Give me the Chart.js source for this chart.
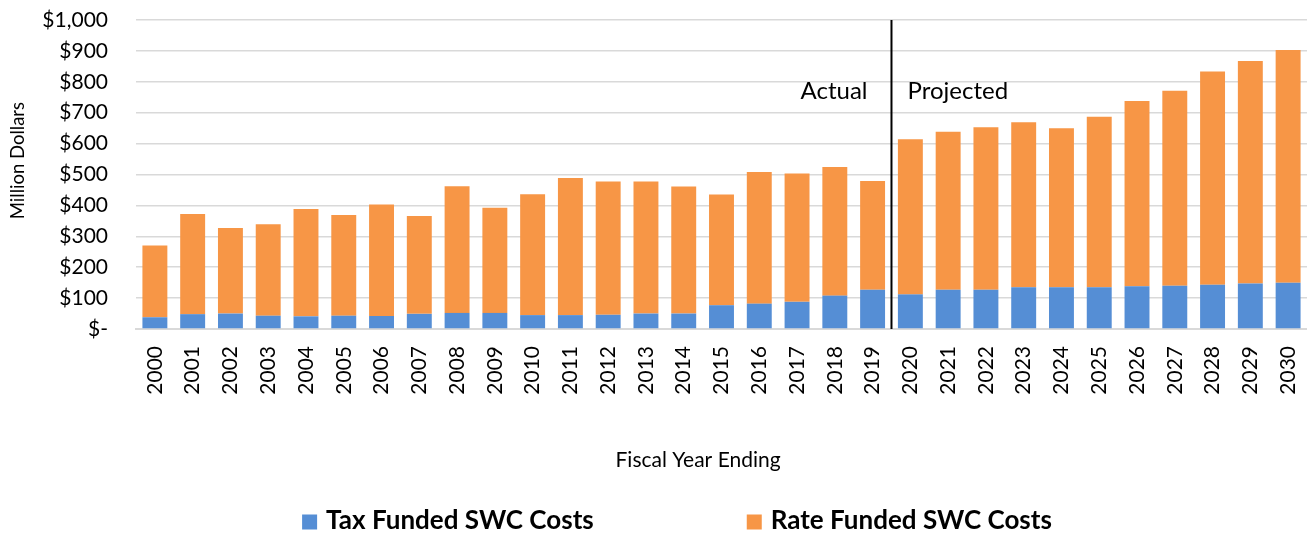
<!DOCTYPE html>
<html><head><meta charset="utf-8">
<script src="https://cdn.jsdelivr.net/npm/chart.js@4.4.1/dist/chart.umd.min.js"></script>
<style>html,body{margin:0;padding:0;background:#fff;} #wrap{width:1307px;height:533px;position:relative;}</style>
</head><body><div id="wrap"><canvas id="c"></canvas></div>
<script>
const categories = ['2000','2001','2002','2003','2004','2005','2006','2007','2008','2009','2010','2011','2012','2013','2014','2015','2016','2017','2018','2019','2020','2021','2022','2023','2024','2025','2026','2027','2028','2029','2030'];
const taxFunded = [38,48,50,43,41,43,42,49,52,52,45,45,46,50,50,77,82,88,108,127,112,127,127,135,135,135,138,140,143,147,150];
const rateFunded = [232,324,277,296,347,326,361,317,410,340,391,444,431,427,411,358,426,415,416,352,502,511,526,534,515,552,600,631,690,720,753];
const yTickLabels = ['$-','$100','$200','$300','$400','$500','$600','$700','$800','$900','$1,000'];
const seriesNames = ['Tax Funded SWC Costs','Rate Funded SWC Costs'];
const seriesColors = ['#558ED5','#F79646'];
const periodLabels = ['Actual','Projected'];
const axisTitles = ['Fiscal Year Ending','Million Dollars'];
const dividerAfter = '2019';
const labelLevel = 768;

const FONT = 'Lato, "Open Sans", sans-serif';

const overlay = {
  id: 'overlay',
  afterDatasetsDraw(chart) {
    const {ctx, chartArea, scales} = chart;
    const i = categories.indexOf(dividerAfter);
    const x = (scales.x.getPixelForValue(i) + scales.x.getPixelForValue(i + 1)) / 2;
    ctx.save();
    ctx.strokeStyle = '#000';
    ctx.lineWidth = 2;
    ctx.beginPath();
    ctx.moveTo(x, chartArea.top);
    ctx.lineTo(x, chartArea.bottom);
    ctx.stroke();
    const y = scales.y.getPixelForValue(labelLevel);
    ctx.fillStyle = '#000';
    ctx.font = '24px ' + FONT;
    ctx.textBaseline = 'middle';
    ctx.textAlign = 'right';
    ctx.fillText(periodLabels[0], x - 24, y);
    ctx.textAlign = 'left';
    ctx.fillText(periodLabels[1], x + 16, y);
    ctx.restore();
  },
  afterDraw(chart) {
    const {ctx, chartArea} = chart;
    ctx.save();
    // axis titles
    ctx.fillStyle = '#000';
    ctx.textBaseline = 'middle';
    ctx.textAlign = 'center';
    ctx.font = '21px ' + FONT;
    ctx.fillText(axisTitles[0], chartArea.left + (chartArea.right - chartArea.left) * 0.48, chartArea.bottom + 131);
    ctx.save();
    ctx.translate(18, chartArea.top + (chartArea.bottom - chartArea.top) * 0.455);
    ctx.rotate(-Math.PI / 2);
    ctx.font = '18.5px ' + FONT;
    ctx.fillText(axisTitles[1], 0, 0);
    ctx.restore();
    // legend
    ctx.font = 'bold 26px ' + FONT;
    ctx.textAlign = 'left';
    const box = 15, gapBT = 9, gapItems = 153;
    const w0 = ctx.measureText(seriesNames[0]).width;
    const w1 = ctx.measureText(seriesNames[1]).width;
    const total = box + gapBT + w0 + gapItems + box + gapBT + w1;
    let x = 677 - total / 2;
    const y = 521;
    for (let k = 0; k < 2; k++) {
      ctx.fillStyle = seriesColors[k];
      ctx.fillRect(x, y - box / 2 + 1, box, box);
      x += box + gapBT;
      ctx.fillStyle = '#000';
      ctx.fillText(seriesNames[k], x, y);
      x += (k === 0 ? w0 : w1) + gapItems;
    }
    ctx.restore();
  }
};

new Chart(document.getElementById('c'), {
  type: 'bar',
  data: {
    labels: categories,
    datasets: [
      {label: seriesNames[0], data: taxFunded, backgroundColor: seriesColors[0], stack: 's'},
      {label: seriesNames[1], data: rateFunded, backgroundColor: seriesColors[1], stack: 's'}
    ]
  },
  options: {
    responsive: true,
    maintainAspectRatio: false,
    animation: false,
    layout: {padding: {top: 20, right: 0, bottom: 53, left: 0}},
    datasets: {bar: {categoryPercentage: 1, barPercentage: 0.66}},
    plugins: {legend: {display: false}, tooltip: {enabled: false}},
    scales: {
      x: {
        stacked: true,
        grid: {display: false, drawTicks: false},
        border: {display: true, color: '#D9D9D9', width: 2},
        ticks: {color: '#000', font: {family: FONT, size: 21}, minRotation: 90, maxRotation: 90, padding: 17, autoSkip: false},
        afterFit(scale) { scale.height = 151; scale.paddingLeft = 0; scale.paddingRight = 0; }
      },
      y: {
        stacked: true,
        min: 0, max: 1000,
        grid: {color: '#D9D9D9', lineWidth: 1.5, drawTicks: false},
        border: {display: false},
        ticks: {stepSize: 100, color: '#000', font: {family: FONT, size: 21}, padding: 28,
          callback: (v) => yTickLabels[Math.round(v / 100)]},
        afterFit(scale) { scale.width = 136; scale.paddingTop = 0; scale.paddingBottom = 0; }
      }
    }
  },
  plugins: [overlay]
});
</script></body></html>
